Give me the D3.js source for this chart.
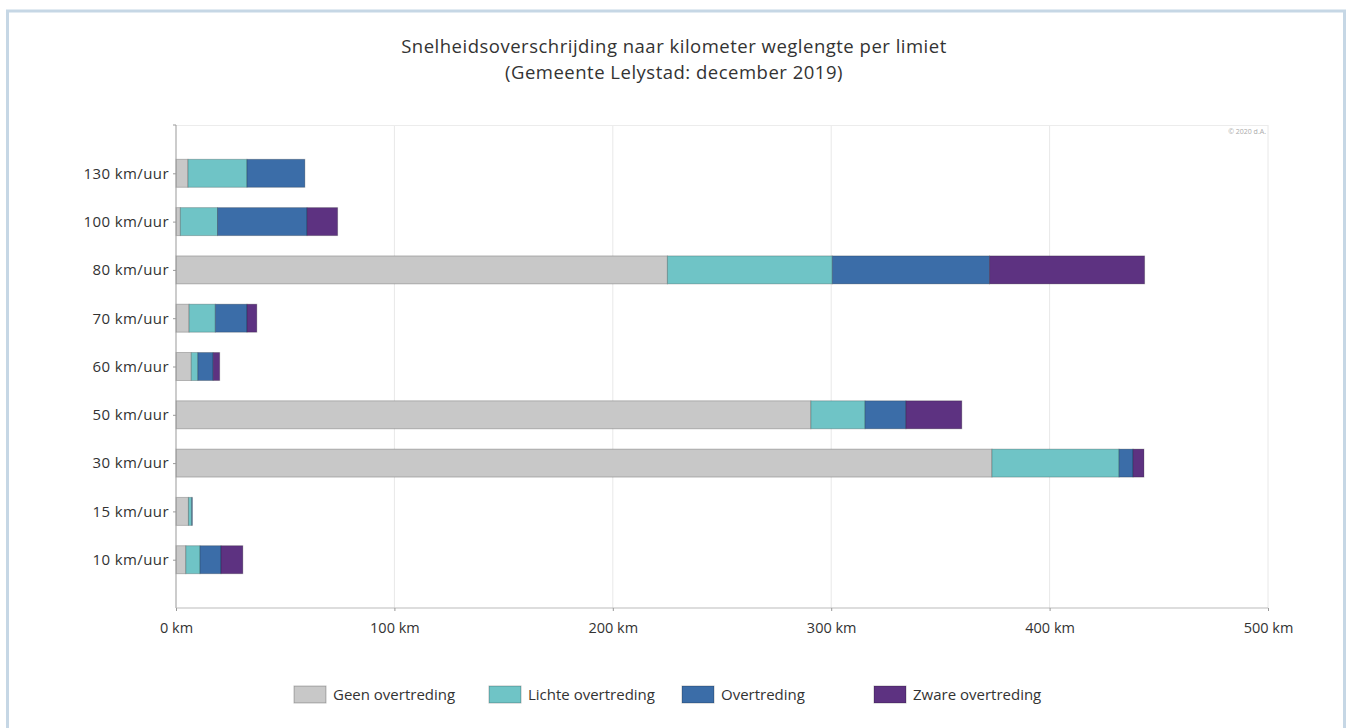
<!DOCTYPE html>
<html>
<head>
<meta charset="utf-8">
<script src="https://cdn.jsdelivr.net/npm/d3@7/dist/d3.min.js"></script>
<style>
  html, body { margin: 0; padding: 0; background: #fff; }
  svg { display: block; font-family: "Open Sans", "Noto Sans", sans-serif; }
</style>
</head>
<body>
<svg id="chart" width="1347" height="728"></svg>
<script>
// ---- data ----
const categories = ["130 km/uur", "100 km/uur", "80 km/uur", "70 km/uur", "60 km/uur", "50 km/uur", "30 km/uur", "15 km/uur", "10 km/uur"];
const seriesNames = ["Geen overtreding", "Lichte overtreding", "Overtreding", "Zware overtreding"];
const geen   = [5.5, 2, 225, 6, 7, 290.7, 373.6, 5.7, 4.5];
const lichte = [27, 17, 75.5, 12, 3, 24.8, 58.2, 1.5, 6.5];
const overtr = [26.5, 41, 72, 14.5, 7, 18.7, 6.4, 0.3, 9.6];
const zware  = [0, 14, 71, 4.5, 3, 25.6, 5, 0, 10];
const xTicks = [0, 100, 200, 300, 400, 500];
const xTickLabels = ["0 km", "100 km", "200 km", "300 km", "400 km", "500 km"];
const titleLines = ["Snelheidsoverschrijding naar kilometer weglengte per limiet", "(Gemeente Lelystad: december 2019)"];
const colors = ["#c8c8c8", "#6fc4c6", "#3b6da8", "#5d3281"];

const svg = d3.select("#chart");

// frame
svg.append("rect").attr("x", 7.5).attr("y", 11).attr("width", 1337).attr("height", 730)
  .attr("fill", "#fff").attr("stroke", "#c6d7e5").attr("stroke-width", 3);

const L = 176, R = 1268, T = 125, B = 608;
const x = d3.scaleLinear().domain([0, 500]).range([L, R]);
const y = d3.scalePoint().domain(categories).range([T, B]).padding(1);
const barH = 28;

// title
svg.append("g").selectAll("text").data(titleLines).join("text")
  .attr("x", 674).attr("y", (d, i) => 53 + i * 26)
  .attr("text-anchor", "middle").attr("font-size", 18.5).attr("letter-spacing", 0.5).attr("fill", "#333")
  .text(d => d);

// gridlines
svg.append("g").selectAll("line").data(xTicks.slice(1)).join("line")
  .attr("x1", d => x(d)).attr("x2", d => x(d)).attr("y1", T).attr("y2", B)
  .attr("stroke", "#e8e8e8").attr("stroke-width", 1);
svg.append("line").attr("x1", L).attr("x2", R).attr("y1", T + 0.5).attr("y2", T + 0.5)
  .attr("stroke", "#ececec");

// copyright
svg.append("text").attr("x", 1266).attr("y", 134).attr("text-anchor", "end")
  .attr("font-size", 7).attr("fill", "#aaa").text("© 2020 d.A.");

// stacked bars
const rows = categories.map((c, i) => ({ cat: c, v: [geen[i], lichte[i], overtr[i], zware[i]] }));
const stack = d3.stack().keys([0, 1, 2, 3]).value((d, k) => d.v[k]);
const layers = stack(rows);
svg.append("g").selectAll("g").data(layers).join("g")
  .attr("fill", (d, i) => colors[i])
  .selectAll("rect").data(d => d.filter(s => s[1] - s[0] > 0)).join("rect")
  .attr("x", d => x(d[0])).attr("width", d => x(d[1]) - x(d[0]))
  .attr("y", d => y(d.data.cat) - barH / 2).attr("height", barH)
  .attr("stroke", "rgba(0,0,0,0.22)").attr("stroke-width", 1);

// y axis
const yAxis = d3.axisLeft(y).tickSize(3).tickPadding(4);
const gy = svg.append("g").attr("transform", `translate(${L},0)`).call(yAxis);
gy.select(".domain").attr("stroke", "#999").attr("d", `M-3,${T}H0V${B}`);
gy.selectAll(".tick line").attr("stroke", "#999");
gy.selectAll(".tick text").attr("font-size", 15).attr("letter-spacing", 0.4).attr("fill", "#333").attr("font-family", "'Open Sans', sans-serif");

// x axis
const xAxis = d3.axisBottom(x).tickValues(xTicks).tickFormat((d, i) => xTickLabels[i]).tickSize(3).tickPadding(12);
const gx = svg.append("g").attr("transform", `translate(0,${B})`).call(xAxis);
gx.select(".domain").attr("stroke", "#bbb").attr("d", `M${L},0H${R}`);
gx.selectAll(".tick line").attr("stroke", "#999");
gx.selectAll(".tick text").attr("font-size", 14.5).attr("fill", "#333").attr("font-family", "'Open Sans', sans-serif");

// legend
const legendX = [294, 489, 682, 874];
const lg = svg.append("g").selectAll("g").data(seriesNames).join("g")
  .attr("transform", (d, i) => `translate(${legendX[i]},686)`);
lg.append("rect").attr("width", 32).attr("height", 17).attr("fill", (d, i) => colors[i])
  .attr("stroke", "rgba(0,0,0,0.25)");
lg.append("text").attr("x", 39).attr("y", 14).attr("font-size", 15).attr("fill", "#333").text(d => d);
</script>
</body>
</html>
